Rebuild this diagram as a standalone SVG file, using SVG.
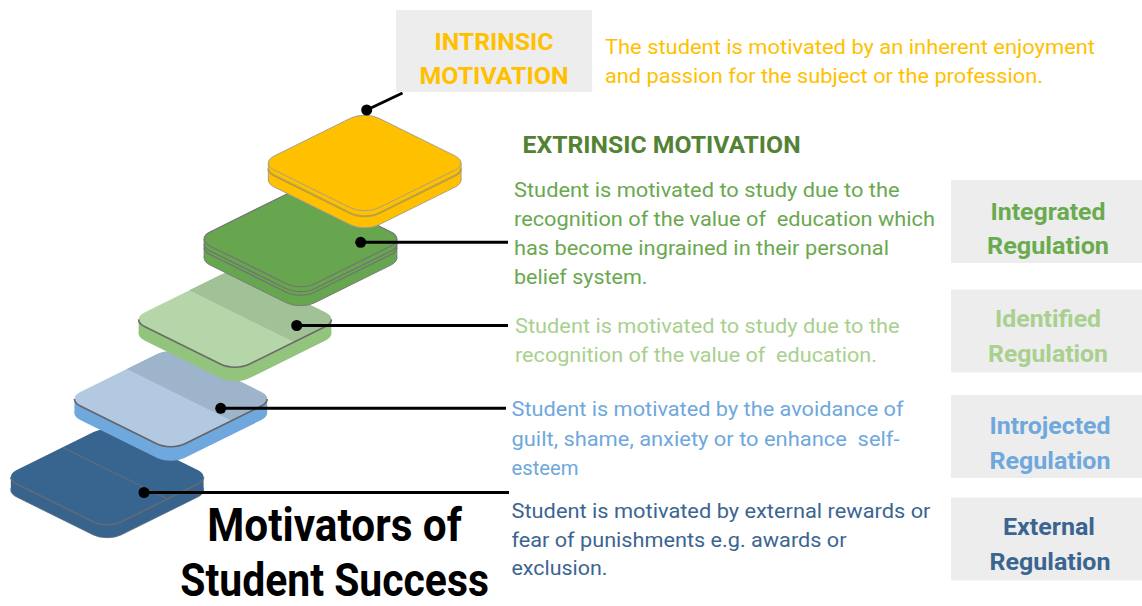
<svg xmlns="http://www.w3.org/2000/svg" width="1142" height="606" viewBox="0 0 1142 606">
  <style>
    .ns { vector-effect: non-scaling-stroke; }
    .body { font-family: "Roboto", "Liberation Sans", sans-serif; font-size: 21px; }
    .lbl { font-family: "Roboto", "Liberation Sans", sans-serif; font-size: 24px; font-weight: 700; text-anchor: middle; }
    .box { fill: #EDEDED; }
    .pre { white-space: pre; }
    .wire { stroke: #000; stroke-width: 3; fill: none; }
    .dot { fill: #000; }
  </style>

  <rect width="1142" height="606" fill="#FFFFFF"/>

  <!-- Stacked isometric tiles, drawn from the bottom step upwards -->
  <g id="tile-external">
    <rect class="ns" transform="translate(107.2 490) scale(1 0.495) rotate(45)" x="-74" y="-74" width="148" height="148" rx="20" fill="#37638C" stroke="#55697C" stroke-width="0.8"/>
    <rect x="10.83" y="477" width="192.74" height="13" fill="#37638C"/>
    <rect class="ns" transform="translate(107.2 477) scale(1 0.495) rotate(45)" x="-74" y="-74" width="148" height="148" rx="20" fill="#38658F"/>
    <path class="ns" transform="translate(107.2 477) scale(1 0.495) rotate(45)" d="M68.14 -68.14 A20 20 0 0 1 74 -54 L74 54 A20 20 0 0 1 54 74 L-54 74 A20 20 0 0 1 -68.14 68.14" fill="none" stroke="#5F6B76" stroke-width="1.6"/>
    <path class="ns" transform="translate(107.2 477) scale(1 0.495) rotate(45)" d="M-74 -11 L74 -11" fill="none" stroke="#5A6D80" stroke-width="1.2"/>
  </g>

  <g id="tile-introjected">
    <rect class="ns" transform="translate(170.8 413) scale(1 0.495) rotate(45)" x="-74" y="-74" width="148" height="148" rx="20" fill="#6FA8DC"/>
    <rect x="74.43" y="399" width="192.74" height="14" fill="#6FA8DC"/>
    <rect class="ns" transform="translate(170.8 399) scale(1 0.495) rotate(45)" x="-74" y="-74" width="148" height="148" rx="20" fill="#B2C9E1"/>
    <path class="ns" transform="translate(170.8 399) scale(1 0.495) rotate(45)" d="M-74 -12 L-74 -54 A20 20 0 0 1 -54 -74 L54 -74 A20 20 0 0 1 74 -54 L74 -12 Z" fill="#9DB4CB"/>
    <path class="ns" transform="translate(170.8 399) scale(1 0.495) rotate(45)" d="M68.14 -68.14 A20 20 0 0 1 74 -54 L74 54 A20 20 0 0 1 54 74 L-54 74 A20 20 0 0 1 -68.14 68.14" fill="none" stroke="#646464" stroke-width="1.6"/>
  </g>

  <g id="tile-identified">
    <rect class="ns" transform="translate(235 333.5) scale(1 0.495) rotate(45)" x="-74" y="-74" width="148" height="148" rx="20" fill="#93C47D"/>
    <rect x="138.63" y="319.5" width="192.74" height="14" fill="#93C47D"/>
    <rect class="ns" transform="translate(235 319.5) scale(1 0.495) rotate(45)" x="-74" y="-74" width="148" height="148" rx="20" fill="#B5D6A8"/>
    <path class="ns" transform="translate(235 319.5) scale(1 0.495) rotate(45)" d="M-74 -9.5 L-74 -54 A20 20 0 0 1 -54 -74 L54 -74 A20 20 0 0 1 74 -54 L74 -9.5 Z" fill="#A1C197"/>
    <path class="ns" transform="translate(235 319.5) scale(1 0.495) rotate(45)" d="M68.14 -68.14 A20 20 0 0 1 74 -54 L74 54 A20 20 0 0 1 54 74 L-54 74 A20 20 0 0 1 -68.14 68.14" fill="none" stroke="#6A6A6A" stroke-width="1.6"/>
  </g>

  <g id="tile-integrated">
    <rect class="ns" transform="translate(300.5 258) scale(1 0.495) rotate(45)" x="-74" y="-74" width="148" height="148" rx="20" fill="#66A64F" stroke="#7A7A7A" stroke-width="1"/>
    <rect x="204.13" y="239" width="192.74" height="19" fill="#66A64F"/>
    <path d="M204.13 239 V258 M396.87 239 V258" stroke="#7A7A7A" stroke-width="1"/>
    <path class="ns" transform="translate(300.5 244) scale(1 0.495) rotate(45)" d="M68.14 -68.14 A20 20 0 0 1 74 -54 L74 54 A20 20 0 0 1 54 74 L-54 74 A20 20 0 0 1 -68.14 68.14" fill="none" stroke="#727272" stroke-width="1.2"/>
    <path class="ns" transform="translate(300.5 247.5) scale(1 0.495) rotate(45)" d="M68.14 -68.14 A20 20 0 0 1 74 -54 L74 54 A20 20 0 0 1 54 74 L-54 74 A20 20 0 0 1 -68.14 68.14" fill="none" stroke="#727272" stroke-width="1.2"/>
    <rect class="ns" transform="translate(300.5 239) scale(1 0.495) rotate(45)" x="-74" y="-74" width="148" height="148" rx="20" fill="#67A64F" stroke="#747474" stroke-width="1.2"/>
  </g>

  <g id="tile-intrinsic">
    <rect class="ns" transform="translate(364.7 180) scale(1 0.495) rotate(45)" x="-74" y="-74" width="148" height="148" rx="20" fill="#FFC000" stroke="#A8A08A" stroke-width="1"/>
    <rect x="268.33" y="163" width="192.74" height="17" fill="#FFC000"/>
    <path d="M268.33 163 V180 M461.07 163 V180" stroke="#A8A08A" stroke-width="1"/>
    <path class="ns" transform="translate(364.7 168.5) scale(1 0.495) rotate(45)" d="M68.14 -68.14 A20 20 0 0 1 74 -54 L74 54 A20 20 0 0 1 54 74 L-54 74 A20 20 0 0 1 -68.14 68.14" fill="none" stroke="#BB9F45" stroke-width="2"/>
    <rect class="ns" transform="translate(364.7 163) scale(1 0.495) rotate(45)" x="-74" y="-74" width="148" height="148" rx="20" fill="#FFC000" stroke="#A6A08E" stroke-width="1"/>
  </g>

  <!-- Leader lines from each step to its description -->
  <g id="connectors">
    <line class="wire" x1="366.7" y1="110" x2="402.5" y2="93"/>
    <line class="wire" x1="360.7" y1="242.3" x2="508" y2="242.3"/>
    <line class="wire" x1="296.7" y1="325.5" x2="508" y2="325.5"/>
    <line class="wire" x1="220.7" y1="408.3" x2="506" y2="408.3"/>
    <line class="wire" x1="144" y1="492.5" x2="509" y2="492.5"/>
    <circle class="dot" cx="366.7" cy="110" r="5.5"/>
    <circle class="dot" cx="360.7" cy="242.3" r="5.5"/>
    <circle class="dot" cx="296.7" cy="325.5" r="5.5"/>
    <circle class="dot" cx="220.7" cy="408.3" r="5.5"/>
    <circle class="dot" cx="144" cy="492.5" r="5.5"/>
  </g>

  <!-- Intrinsic motivation -->
  <g id="intrinsic">
    <rect class="box" x="396" y="10" width="196" height="82"/>
    <text class="lbl" x="494" y="49.5" fill="#FFC000" textLength="119" lengthAdjust="spacingAndGlyphs">INTRINSIC</text>
    <text class="lbl" x="494" y="83.5" fill="#FFC000" textLength="149" lengthAdjust="spacingAndGlyphs">MOTIVATION</text>
    <text class="body" x="605" y="54" fill="#FFC000" font-size="22" textLength="490" lengthAdjust="spacingAndGlyphs">The student is motivated by an inherent enjoyment</text>
    <text class="body" x="605" y="83" fill="#FFC000" font-size="22" textLength="438" lengthAdjust="spacingAndGlyphs">and passion for the subject or the profession.</text>
  </g>

  <!-- Extrinsic motivation heading -->
  <g id="extrinsic-heading">
    <text class="lbl" x="661.6" y="152.5" fill="#548235" font-size="23" textLength="278" lengthAdjust="spacingAndGlyphs">EXTRINSIC MOTIVATION</text>
  </g>

  <g id="integrated">
    <text class="body" x="514" y="196.5" fill="#6AA84F" textLength="385.6" lengthAdjust="spacingAndGlyphs">Student is motivated to study due to the</text>
    <text class="body pre" x="514" y="225.5" fill="#6AA84F" textLength="421" lengthAdjust="spacingAndGlyphs">recognition of the value of  education which</text>
    <text class="body" x="514" y="254.5" fill="#6AA84F" textLength="375" lengthAdjust="spacingAndGlyphs">has become ingrained in their personal</text>
    <text class="body" x="514" y="283.5" fill="#6AA84F" textLength="133.5" lengthAdjust="spacingAndGlyphs">belief system.</text>
    <rect class="box" x="951" y="180" width="191" height="83"/>
    <text class="lbl" x="1048" y="219.5" fill="#6AAB4F" textLength="115" lengthAdjust="spacingAndGlyphs">Integrated</text>
    <text class="lbl" x="1048" y="253.5" fill="#6AAB4F" textLength="122" lengthAdjust="spacingAndGlyphs">Regulation</text>
  </g>

  <g id="identified">
    <text class="body" x="515" y="333" fill="#A9D08E" textLength="384.6" lengthAdjust="spacingAndGlyphs">Student is motivated to study due to the</text>
    <text class="body pre" x="515" y="362" fill="#A9D08E" textLength="362" lengthAdjust="spacingAndGlyphs">recognition of the value of  education.</text>
    <rect class="box" x="951" y="289.5" width="191" height="83"/>
    <text class="lbl" x="1048" y="327" fill="#A9D08E" textLength="106" lengthAdjust="spacingAndGlyphs">Identified</text>
    <text class="lbl" x="1048" y="362" fill="#A9D08E" textLength="120" lengthAdjust="spacingAndGlyphs">Regulation</text>
  </g>

  <g id="introjected">
    <text class="body" x="511.5" y="416" fill="#6FA8DC" textLength="392" lengthAdjust="spacingAndGlyphs">Student is motivated by the avoidance of</text>
    <text class="body pre" x="511.5" y="445.5" fill="#6FA8DC" textLength="388" lengthAdjust="spacingAndGlyphs">guilt, shame, anxiety or to enhance  self-</text>
    <text class="body" x="511.5" y="475" fill="#6FA8DC" textLength="67" lengthAdjust="spacingAndGlyphs">esteem</text>
    <rect class="box" x="951" y="395" width="191" height="83"/>
    <text class="lbl" x="1050" y="433.5" fill="#6FA8DC" textLength="121" lengthAdjust="spacingAndGlyphs">Introjected</text>
    <text class="lbl" x="1050" y="468.5" fill="#6FA8DC" textLength="121" lengthAdjust="spacingAndGlyphs">Regulation</text>
  </g>

  <g id="external">
    <text class="body" x="511.5" y="518" fill="#3B6591" textLength="419" lengthAdjust="spacingAndGlyphs">Student is motivated by external rewards or</text>
    <text class="body" x="511.5" y="546.5" fill="#3B6591" textLength="335" lengthAdjust="spacingAndGlyphs">fear of punishments e.g. awards or</text>
    <text class="body" x="511.5" y="575" fill="#3B6591" textLength="96" lengthAdjust="spacingAndGlyphs">exclusion.</text>
    <rect class="box" x="951" y="497.5" width="191" height="83"/>
    <text class="lbl" x="1049" y="535" fill="#3B6591" textLength="92" lengthAdjust="spacingAndGlyphs">External</text>
    <text class="lbl" x="1050" y="570" fill="#3B6591" textLength="121" lengthAdjust="spacingAndGlyphs">Regulation</text>
  </g>

  <!-- Title, squeezed horizontally to a condensed look -->
  <g id="title" transform="translate(334.6 0) scale(0.86 1)" font-family="Roboto, 'Liberation Sans', sans-serif" font-weight="700" font-size="46" fill="#000" text-anchor="middle">
    <text x="0" y="541.5" textLength="296" lengthAdjust="spacingAndGlyphs">Motivators of</text>
    <text x="0" y="596" textLength="359" lengthAdjust="spacingAndGlyphs">Student Success</text>
  </g>
</svg>
